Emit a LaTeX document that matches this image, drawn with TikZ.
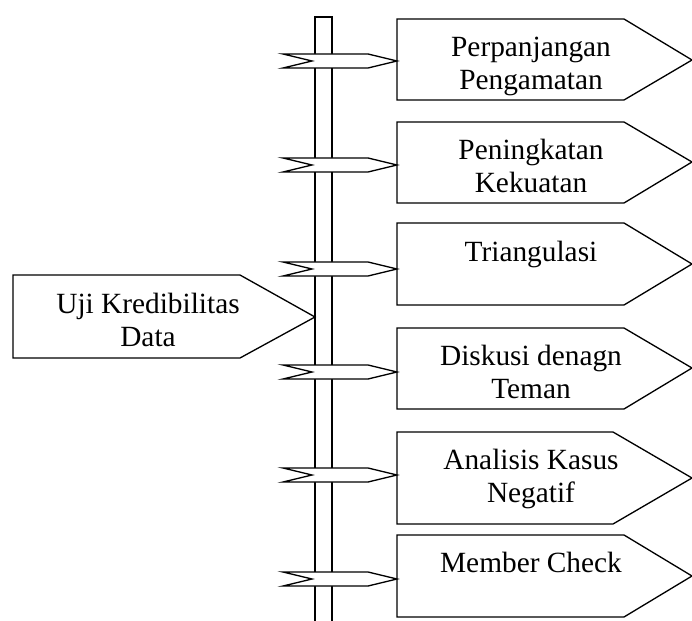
\documentclass[tikz,border=0pt]{standalone}
\usepackage{fontspec}
\setmainfont{Liberation Serif}
\usetikzlibrary{calc}

\begin{document}
\begin{tikzpicture}[
    x=0.02cm, y=-0.02cm,
    tagbox/.style={draw, line width=0.75pt, fill=white, line join=miter},
    notcharrow/.style={draw, line width=0.75pt, fill=white, line join=miter},
    bar/.style={draw, line width=0.75pt},
    lbl/.style={font=\fontsize{16.7}{18.8}\selectfont, align=center, anchor=north, inner sep=0pt}
]
\useasboundingbox (0,0) rectangle (692,621);

% --- Batang vertikal ---
\coordinate (barL) at (315,17);
\coordinate (barR) at (332,17);
\draw[bar] (barL |- 0,625) -- (barL) -- (barR) -- (barR |- 0,625);

% --- Kiri: Uji Kredibilitas Data ---
\draw[tagbox] (13,275) -- (240,275) -- (315,317) -- (240,358) -- (13,358) -- cycle;
\node[lbl] (uji) at (148,293) {Uji Kredibilitas\\Data};

% --- Kanan: enam kotak ---
\draw[tagbox] (397,19) -- (624,19) -- (692,60) -- (624,100) -- (397,100) -- cycle;
\node[lbl] (perpanjangan) at (531,37) {Perpanjangan\\Pengamatan};

\draw[tagbox] (397,122) -- (624,122) -- (692,162) -- (624,203) -- (397,203) -- cycle;
\node[lbl] (peningkatan) at (531,139) {Peningkatan\\Kekuatan};

\draw[tagbox] (397,223) -- (624,223) -- (692,264) -- (624,305) -- (397,305) -- cycle;
\node[lbl] (triangulasi) at (531,241) {Triangulasi};

\draw[tagbox] (397,328) -- (624,328) -- (692,368) -- (624,409) -- (397,409) -- cycle;
\node[lbl] (diskusi) at (531,345) {Diskusi denagn\\Teman};

\draw[tagbox] (397,432) -- (613,432) -- (692,478) -- (613,524) -- (397,524) -- cycle;
\node[lbl] (analisis) at (531,449) {Analisis Kasus\\Negatif};

\draw[tagbox] (397,535) -- (624,535) -- (692,576) -- (624,617) -- (397,617) -- cycle;
\node[lbl] (member) at (531,552) {Member Check};

% --- Panah bertakik dari batang ke kotak ---
\coordinate (in1) at (397,61);
\coordinate (in2) at (397,165);
\coordinate (in3) at (397,269);
\coordinate (in4) at (397,372);
\coordinate (in5) at (397,475);
\coordinate (in6) at (397,579);

\draw[notcharrow] (in1) -- ++(-29,-7) -- ++(-85,0) -- ++(29,7) -- ++(-29,7) -- ++(85,0) -- cycle;
\draw[notcharrow] (in2) -- ++(-29,-7) -- ++(-85,0) -- ++(29,7) -- ++(-29,7) -- ++(85,0) -- cycle;
\draw[notcharrow] (in3) -- ++(-29,-7) -- ++(-85,0) -- ++(29,7) -- ++(-29,7) -- ++(85,0) -- cycle;
\draw[notcharrow] (in4) -- ++(-29,-7) -- ++(-85,0) -- ++(29,7) -- ++(-29,7) -- ++(85,0) -- cycle;
\draw[notcharrow] (in5) -- ++(-29,-7) -- ++(-85,0) -- ++(29,7) -- ++(-29,7) -- ++(85,0) -- cycle;
\draw[notcharrow] (in6) -- ++(-29,-7) -- ++(-85,0) -- ++(29,7) -- ++(-29,7) -- ++(85,0) -- cycle;

\end{tikzpicture}
\end{document}
